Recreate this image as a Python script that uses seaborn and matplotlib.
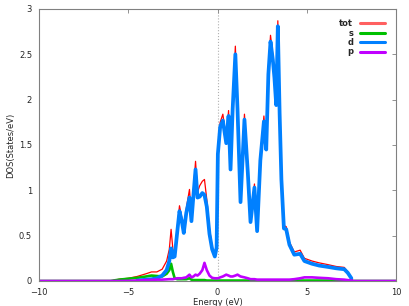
import matplotlib
matplotlib.use("Agg")
import matplotlib.pyplot as plt
import numpy as np
import pandas as pd
import seaborn as sns
from matplotlib.lines import Line2D

# energy grid (eV) and projected DOS values
energy = [-10.0, -6.0, -5.5, -5.0, -4.5, -4.0, -3.7, -3.4, -3.1, -2.85, -2.7,
          -2.6, -2.5, -2.4, -2.25, -2.13, -2.0, -1.89, -1.75, -1.57, -1.46,
          -1.35, -1.23, -1.12, -1.0, -0.85, -0.73, -0.6, -0.45, -0.3, -0.15,
          -0.05, 0.02, 0.15, 0.3, 0.49, 0.62, 0.73, 0.85, 1.0, 1.12, 1.29,
          1.51, 1.7, 1.85, 2.07, 2.22, 2.4, 2.6, 2.73, 2.85, 2.97, 3.1, 3.19,
          3.29, 3.38, 3.48, 3.58, 3.72, 3.85, 4.03, 4.3, 4.63, 4.87, 5.3, 5.7,
          6.2, 6.65, 7.1, 7.3, 7.5, 7.6, 10.0]
dos_tot = [0.0, 0.0, 0.02, 0.03, 0.05, 0.08, 0.1, 0.1, 0.13, 0.22, 0.35,
           0.57, 0.35, 0.3, 0.6, 0.83, 0.7, 0.56, 0.8, 1.01, 0.72,
           1.0, 1.32, 0.98, 1.05, 1.1, 1.12, 0.9, 0.58, 0.38, 0.28,
           0.4, 1.45, 1.75, 1.84, 1.57, 1.88, 1.27, 1.97, 2.59, 1.97, 0.9,
           1.84, 1.23, 0.68, 1.07, 0.57, 1.38, 1.82, 1.49, 2.34, 2.71, 2.49, 2.29,
           1.98, 2.87, 1.9, 1.16, 0.61, 0.6, 0.43, 0.32, 0.34, 0.25, 0.22, 0.2,
           0.18, 0.16, 0.15, 0.1, 0.03, 0.0, 0.0]
dos_s = [0.0, 0.0, 0.015, 0.025, 0.035, 0.05, 0.06, 0.055, 0.05, 0.08, 0.12,
         0.19, 0.1, 0.03, 0.02, 0.02, 0.02, 0.02, 0.02, 0.03, 0.015,
         0.01, 0.01, 0.01, 0.01, 0.01, 0.01, 0.005, 0.005, 0.005, 0.005,
         0.005, 0.005, 0.005, 0.005, 0.005, 0.005, 0.005, 0.005, 0.005, 0.005, 0.005,
         0.005, 0.005, 0.005, 0.005, 0.005, 0.005, 0.005, 0.005, 0.005, 0.005, 0.005, 0.005,
         0.005, 0.005, 0.005, 0.005, 0.005, 0.005, 0.005, 0.005, 0.005, 0.005, 0.005, 0.005,
         0.005, 0.005, 0.005, 0.005, 0.0, 0.0, 0.0]
dos_d = [np.nan, np.nan, np.nan, np.nan, 0.005, 0.015, 0.02, 0.03, 0.06, 0.12, 0.22,
         0.36, 0.26, 0.27, 0.55, 0.77, 0.66, 0.53, 0.75, 0.92, 0.66,
         0.94, 1.23, 0.92, 0.93, 0.97, 0.95, 0.82, 0.52, 0.35, 0.27,
         0.37, 1.4, 1.7, 1.77, 1.52, 1.82, 1.23, 1.9, 2.5, 1.9, 0.87,
         1.78, 1.19, 0.65, 1.03, 0.55, 1.33, 1.76, 1.45, 2.28, 2.64, 2.44, 2.24,
         1.94, 2.81, 1.85, 1.12, 0.58, 0.57, 0.4, 0.29, 0.3, 0.22, 0.19, 0.17,
         0.155, 0.14, 0.13, 0.09, 0.03, np.nan, np.nan]
dos_p = [0.0, 0.0, 0.0, 0.002, 0.005, 0.01, 0.012, 0.015, 0.015, 0.018, 0.02,
         0.02, 0.02, 0.025, 0.03, 0.03, 0.03, 0.035, 0.04, 0.07, 0.04,
         0.05, 0.07, 0.06, 0.08, 0.12, 0.2, 0.12, 0.06, 0.035, 0.03,
         0.03, 0.03, 0.04, 0.05, 0.07, 0.06, 0.05, 0.05, 0.06, 0.07, 0.05,
         0.04, 0.03, 0.02, 0.02, 0.015, 0.015, 0.015, 0.015, 0.015, 0.015, 0.015, 0.015,
         0.015, 0.015, 0.015, 0.015, 0.015, 0.015, 0.015, 0.02, 0.03, 0.04, 0.04, 0.035,
         0.03, 0.02, 0.015, 0.01, 0.005, 0.0, 0.0]

series = ["tot", "s", "d", "p"]
colors = {"tot": "#ff0000", "s": "#00c000", "d": "#0080ff", "p": "#c000ff"}
widths = {"tot": 0.9, "s": 1.9, "d": 2.7, "p": 1.9}

df = pd.DataFrame({"Energy": energy, "tot": dos_tot, "s": dos_s,
                   "d": dos_d, "p": dos_p})
df_melt = df.melt(id_vars="Energy", var_name="orbital", value_name="DOS")

sns.set_style("white")
plt.rcParams["font.family"] = ["DejaVu Sans"]

fig = plt.figure(figsize=(4.09, 3.06), dpi=100)
ax = fig.add_axes([39 / 409, 1 - 281 / 306, 357 / 409, 272 / 306])

ax.axvline(0, color="#b0b0b0", ls=":", lw=0.8, zorder=0)

for name in series:
    sub = df_melt[df_melt["orbital"] == name].dropna()
    sns.lineplot(data=sub, x="Energy", y="DOS", color=colors[name],
                 linewidth=widths[name], sort=False, estimator=None, ax=ax)

ax.set_xlim(-10, 10)
ax.set_ylim(0, 3)
ax.set_xticks([-10, -5, 0, 5, 10])
ax.set_yticks([0, 0.5, 1, 1.5, 2, 2.5, 3])
ax.set_yticklabels(["0", "0.5", "1", "1.5", "2", "2.5", "3"])
ax.set_xlabel("Energy (eV)", fontsize=6, labelpad=1)
ax.set_ylabel("DOS(States/eV)", fontsize=6, labelpad=3)

for sp in ax.spines.values():
    sp.set_color("#808080")
    sp.set_linewidth(0.8)
ax.tick_params(direction="in", length=3, width=0.6, color="#808080",
               labelsize=6, top=True, right=True, pad=5)

handles = [Line2D([], [], color=colors[n], lw=2.2) for n in series]
handles[0].set_color("#ff6060")
leg = ax.legend(handles, series, loc="upper right", frameon=False,
                markerfirst=False, fontsize=6, handlelength=3.0,
                handletextpad=0.8, labelspacing=0.05,
                bbox_to_anchor=(0.99, 0.99))
for t in leg.get_texts():
    t.set_ha("right")
    t.set_fontweight("bold")

fig.savefig("out.png", dpi=100)
